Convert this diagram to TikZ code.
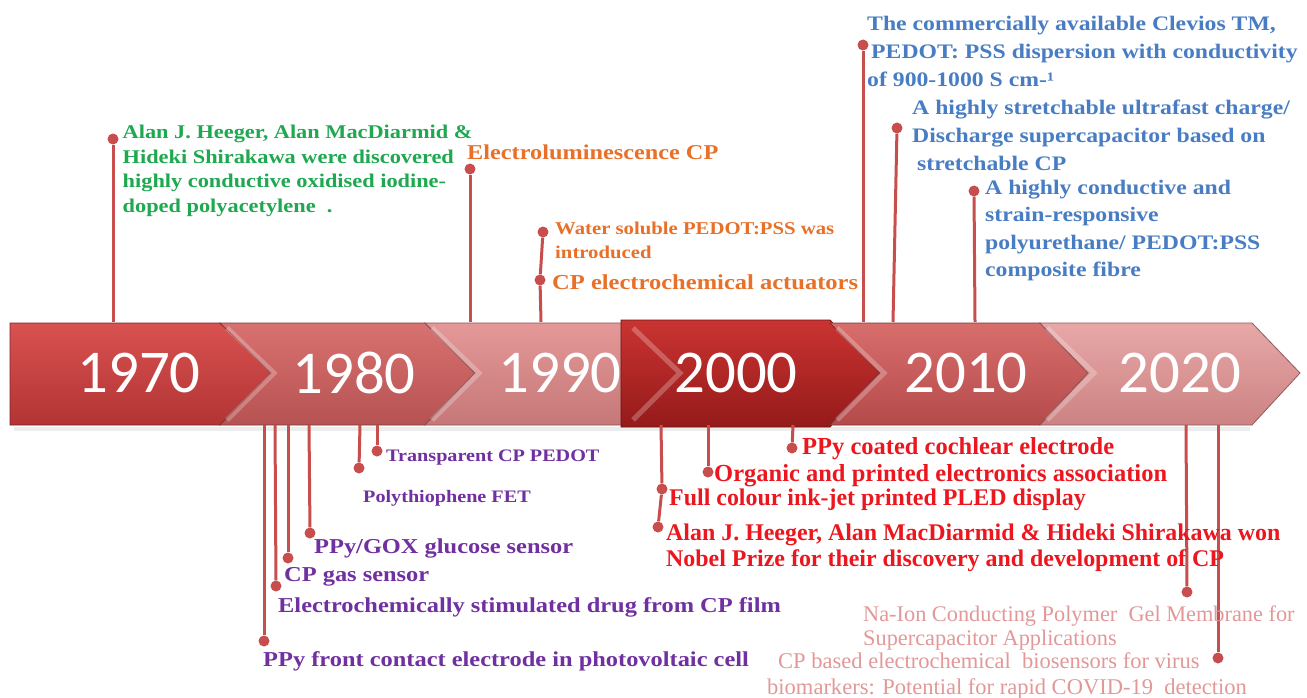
\documentclass[tikz,border=0pt]{standalone}
\usepackage{fontspec}
\setmainfont{Liberation Serif}
\newfontfamily\yearfont{Carlito}
\newfontfamily\widefont[FakeStretch=1.15]{Liberation Serif}

\definecolor{pinred}{RGB}{200,78,78}
\definecolor{txtgreen}{RGB}{30,168,80}
\definecolor{txtorange}{RGB}{232,112,40}
\definecolor{txtblue}{RGB}{72,125,195}
\definecolor{txtpurple}{RGB}{112,48,160}
\definecolor{txtred}{RGB}{236,22,30}
\definecolor{txtpink}{RGB}{226,152,152}
\definecolor{c70t}{RGB}{216,82,80}
\definecolor{c70b}{RGB}{178,52,52}
\definecolor{c80t}{RGB}{216,114,112}
\definecolor{c80b}{RGB}{182,82,82}
\definecolor{c90t}{RGB}{228,152,152}
\definecolor{c90b}{RGB}{198,120,120}
\definecolor{c00t}{RGB}{202,52,50}
\definecolor{c00b}{RGB}{148,26,26}
\definecolor{c10t}{RGB}{216,110,108}
\definecolor{c10b}{RGB}{180,74,74}
\definecolor{c20t}{RGB}{232,168,168}
\definecolor{c20b}{RGB}{204,130,130}

\begin{document}
\begin{tikzpicture}[x=1bp,y=-1bp,
  stem/.style={pinred, line width=3bp},
  pindot/.style={circle, fill=pinred, inner sep=0pt, minimum size=11bp},
  lbl/.style={anchor=north west, inner sep=0pt, align=left},
  seg/.style={line width=0.8bp},
  bevel/.style={white, opacity=0.25, line width=5bp},
  yr/.style={white, inner sep=0pt, font=\yearfont\fontsize{61}{61}\selectfont}]
\useasboundingbox (0,0) rectangle (1307,697);
\fill[white] (0,0) rectangle (1307,697);

% band of decades
\fill[black, opacity=0.07] (14,427) rectangle (1250,431);
\shadedraw[seg, top color=c70t, bottom color=c70b, draw=c70b!70!black] (10,323) -- (220,323) -- (271,373) -- (220,425) -- (10,425) -- cycle;
\shadedraw[seg, top color=c80t, bottom color=c80b, draw=c80b!70!black] (220,323) -- (425,323) -- (475,373) -- (425,425) -- (220,425) -- (271,373) -- cycle;
\shadedraw[seg, top color=c90t, bottom color=c90b, draw=c90b!70!black] (425,323) -- (640,323) -- (690,373) -- (640,425) -- (425,425) -- (475,373) -- cycle;
\shadedraw[seg, top color=c00t, bottom color=c00b, draw=c00b!70!black] (621,320) -- (830,320) -- (880,373) -- (830,427) -- (621,427) -- cycle;
\shadedraw[seg, top color=c10t, bottom color=c10b, draw=c10b!70!black] (830,323) -- (1040,323) -- (1088,373) -- (1040,425) -- (830,425) -- (880,373) -- cycle;
\shadedraw[seg, top color=c20t, bottom color=c20b, draw=c20b!70!black] (1040,323) -- (1252,323) -- (1300,373) -- (1252,425) -- (1040,425) -- (1088,373) -- cycle;
\foreach \bx in {220,425,626,830,1040}
  \draw[bevel] (\bx+7,328) -- (\bx+54,373) -- (\bx+7,420);

\node[yr] (y1970) at (139,372.5) {1970};
\node[yr] (y1980) at (354,372.5) {1980};
\node[yr] (y1990) at (560,372.5) {1990};
\node[yr] (y2000) at (736,372.5) {2000};
\node[yr] (y2010) at (966,372.5) {2010};
\node[yr] (y2020) at (1180,372.5) {2020};

% events above the band
\coordinate (fgrn) at (113,322);
\coordinate (fel) at (470,322);
\coordinate (fwater) at (541,322);
\coordinate (fclev) at (863,322);
\coordinate (fstretch) at (893,322);
\coordinate (ffibre) at (975,322);

\node[pindot] (dgrn) at (113,139) {};
\node[pindot] (del) at (470,169) {};
\node[pindot] (dwater) at (543,232) {};
\node[pindot] (dact) at (540,280) {};
\node[pindot] (dclev) at (863,45) {};
\node[pindot] (dstretch) at (897,128) {};
\node[pindot] (dfibre) at (974,191) {};

\draw[stem] (fgrn) -- (dgrn);
\draw[stem] (fel) -- (del);
\draw[stem] (fwater) -- (dact) -- (dwater);
\draw[stem] (fclev) -- (dclev);
\draw[stem] (fstretch) -- (dstretch);
\draw[stem] (ffibre) -- (dfibre);

\node[lbl, txtgreen, font=\widefont\bfseries\fontsize{19.5}{24.7}\selectfont] (grnnote) at (122.5,124.9)
  {Alan J. Heeger, Alan MacDiarmid \&\\Hideki Shirakawa were discovered\\highly conductive oxidised iodine-\\doped polyacetylene\ \ .};
\node[lbl, txtorange, font=\widefont\bfseries\fontsize{21.2}{25}\selectfont] (elnote) at (467,144.3) {Electroluminescence CP};
\node[lbl, txtorange, font=\widefont\bfseries\fontsize{18.1}{24}\selectfont] (waternote) at (555,221.9)
  {Water soluble\ PEDOT:PSS was\\introduced};
\node[lbl, txtorange, font=\widefont\bfseries\fontsize{21.4}{25}\selectfont] (actnote) at (552,274.3) {CP electrochemical actuators};
\node[lbl, txtblue, font=\widefont\bfseries\fontsize{20.7}{28}\selectfont] (clevnote) at (867,16)
  {The commercially available Clevios TM,\\\hspace*{4bp}PEDOT: PSS dispersion with conductivity\\of 900-1000 S cm-¹};
\node[lbl, txtblue, font=\widefont\bfseries\fontsize{20.7}{28}\selectfont] (stretchnote) at (912,100)
  {A highly stretchable ultrafast charge/\\Discharge supercapacitor based on\\\hspace*{5bp}stretchable CP};
\node[lbl, txtblue, font=\widefont\bfseries\fontsize{20.7}{27.5}\selectfont] (fibrenote) at (985,180)
  {A highly conductive and\\strain-responsive\\polyurethane/ PEDOT:PSS\\composite fibre};

% events below the band
\coordinate (fpv) at (264,425);
\coordinate (fdrug) at (275,425);
\coordinate (fgas) at (288,425);
\coordinate (fgox) at (309,425);
\coordinate (ffet) at (360,425);
\coordinate (fpedot) at (377,425);
\coordinate (fnobel) at (661,425);
\coordinate (fopea) at (708,425);
\coordinate (fcoch) at (793,425);
\coordinate (fnaion) at (1186,425);
\coordinate (fcovid) at (1218,425);

\node[pindot] (dpv) at (264,641) {};
\node[pindot] (ddrug) at (276,586) {};
\node[pindot] (dgas) at (288,558) {};
\node[pindot] (dgox) at (310,533) {};
\node[pindot] (dfet) at (359,468) {};
\node[pindot] (dpedot) at (377,451) {};
\node[pindot] (dpled) at (662,489) {};
\node[pindot] (dnobel) at (658,527) {};
\node[pindot] (dopea) at (708,472) {};
\node[pindot] (dcoch) at (792,448) {};
\node[pindot] (dnaion) at (1187,592) {};
\node[pindot] (dcovid) at (1218,658) {};

\draw[stem] (fpv) -- (dpv);
\draw[stem] (fdrug) -- (ddrug);
\draw[stem] (fgas) -- (dgas);
\draw[stem] (fgox) -- (dgox);
\draw[stem] (ffet) -- (dfet);
\draw[stem] (fpedot) -- (dpedot);
\draw[stem] (fnobel) -- (dpled) -- (dnobel);
\draw[stem] (fopea) -- (dopea);
\draw[stem] (fcoch) -- (dcoch);
\draw[stem] (fnaion) -- (dnaion);
\draw[stem] (fcovid) -- (dcovid);

\node[lbl, txtpurple, font=\widefont\bfseries\fontsize{17.6}{21}\selectfont] (pedotnote) at (386,450) {Transparent CP PEDOT};
\node[lbl, txtpurple, font=\widefont\bfseries\fontsize{17.6}{21}\selectfont] (fetnote) at (363,490) {Polythiophene FET};
\node[lbl, txtpurple, font=\widefont\bfseries\fontsize{21.3}{25}\selectfont] (goxnote) at (314,538.8) {PPy/GOX glucose sensor};
\node[lbl, txtpurple, font=\widefont\bfseries\fontsize{21.3}{25}\selectfont] (gasnote) at (284,566.8) {CP gas sensor};
\node[lbl, txtpurple, font=\widefont\bfseries\fontsize{21.3}{25}\selectfont] (drugnote) at (278,597.8) {Electrochemically stimulated drug from CP film};
\node[lbl, txtpurple, font=\widefont\bfseries\fontsize{21.3}{25}\selectfont] (pvnote) at (263,651.8) {PPy front contact electrode in photovoltaic cell};

\node[lbl, txtred, font=\bfseries\fontsize{24.6}{26.5}\selectfont] (cochnote) at (802,437.5) {PPy coated cochlear electrode};
\node[lbl, txtred, font=\bfseries\fontsize{24.6}{26.5}\selectfont] (opeanote) at (714,464.5) {Organic and printed electronics association};
\node[lbl, txtred, font=\bfseries\fontsize{24}{26.5}\selectfont] (plednote) at (669,488.5) {Full colour ink-jet printed PLED display};
\node[lbl, txtred, font=\bfseries\fontsize{24}{26.5}\selectfont] (nobelnote) at (666,523.5)
  {Alan J. Heeger, Alan MacDiarmid \& Hideki Shirakawa won\\Nobel Prize for their discovery and development of CP};

\node[lbl, txtpink, font=\fontsize{22.4}{24}\selectfont] (naionnote) at (863,605.5)
  {Na-Ion Conducting Polymer\ \ Gel Membrane for\\Supercapacitor Applications};
\node[lbl, txtpink, font=\fontsize{22.6}{26}\selectfont] (covidnote) at (767,652.5)
  {\hspace*{11bp}CP based electrochemical\ \ biosensors for virus\\biomarkers: Potential for rapid COVID-19\ \ detection};
\end{tikzpicture}
\end{document}
